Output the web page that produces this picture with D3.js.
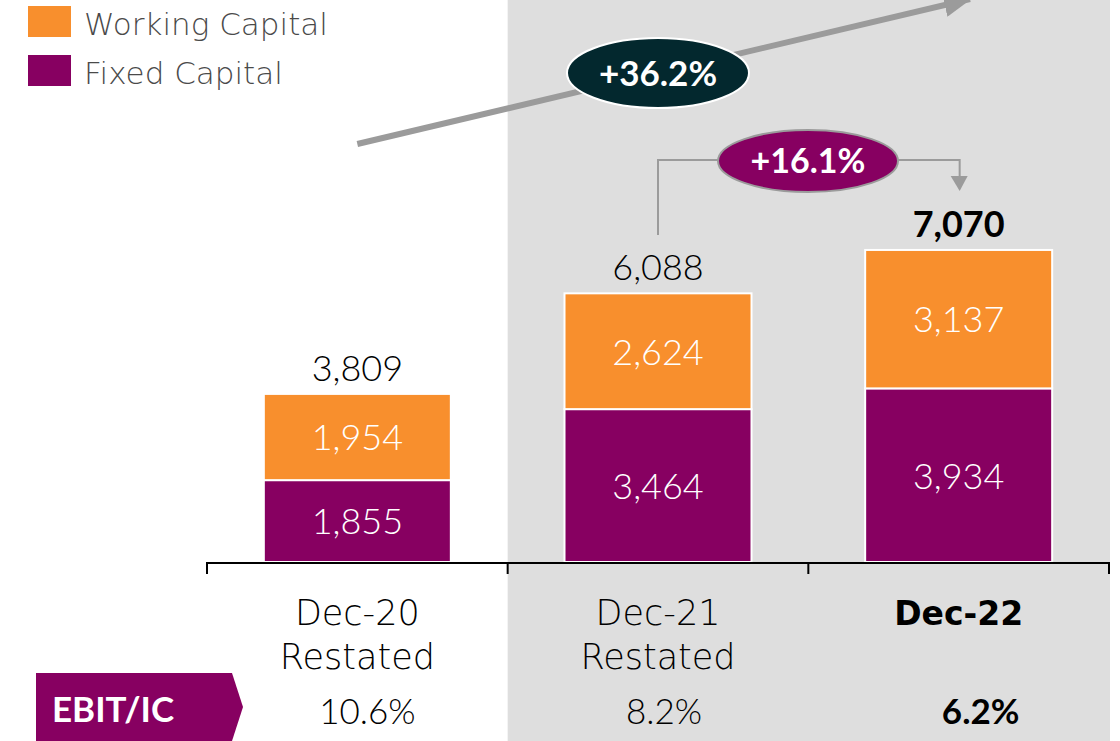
<!DOCTYPE html>
<meta charset="utf-8">
<script src="https://d3js.org/d3.v7.min.js"></script>
<style>
  body { margin: 0; background: #fff; }
  svg { display: block; font-family: Lato, "Open Sans", sans-serif; }
  .word { font-family: "DejaVu Sans", sans-serif; }
</style>

<div id="chart"></div>

<script>

// dados
const categories = ["Dec-20", "Dec-21", "Dec-22"];
const subLabels = ["Restated", "Restated", ""];
const fixedCapital = [1855, 3464, 3934];
const workingCapital = [1954, 2624, 3137];
const totals = [3809, 6088, 7070];
const ebitIC = ["10.6%", "8.2%", "6.2%"];
const series = ["Fixed Capital", "Working Capital"];
const legendItems = ["Working Capital", "Fixed Capital"];
const growthAll = "+36.2%";
const growthYoY = "+16.1%";

const width = 1120, height = 741;

const cr = {
  fixed: "#870061",
  working: "#f88f2d",
  panel: "#dedede",
  arrow: "#9b9b9b",
  teal: "#03282e",
  legendText: "#4a4a4a"
};
const colorOf = { "Fixed Capital": cr.fixed, "Working Capital": cr.working };

const svg = d3.select("#chart")
  .append("svg")
  .attr("width", width)
  .attr("height", height);

// escalas
const x = d3.scaleBand()
  .domain(categories)
  .range([207, 1109])
  .paddingInner(0)
  .paddingOuter(0);

const y = d3.scaleLinear()
  .domain([0, d3.max(totals)])
  .range([562, 250]);

const barW = 187;

// painel cinzento atrás das duas últimas colunas
svg.append("rect")
  .attr("x", x(categories[1]))
  .attr("y", 0)
  .attr("width", x(categories[2]) + x.bandwidth() - x(categories[1]) + 1)
  .attr("height", height)
  .attr("fill", cr.panel);

// legenda
const legend = svg.append("g");
legend.selectAll("rect")
  .data(legendItems)
  .join("rect")
  .attr("x", 28)
  .attr("y", (d, i) => 6 + i * 49)
  .attr("width", 43)
  .attr("height", 31)
  .attr("fill", d => colorOf[d]);
legend.selectAll("text")
  .data(legendItems)
  .join("text")
  .attr("class", "word")
  .attr("x", 84)
  .attr("y", (d, i) => 35 + i * 49)
  .style("font-size", "31px")
  .style("font-weight", 200)
  .attr("fill", cr.legendText)
  .text(d => d);

// seta grande (+36.2%)
svg.append("defs").append("marker")
  .attr("id", "head")
  .attr("markerUnits", "userSpaceOnUse")
  .attr("markerWidth", 28)
  .attr("markerHeight", 24)
  .attr("viewBox", "0 0 28 24")
  .attr("refX", 26)
  .attr("refY", 12)
  .attr("orient", "auto")
  .append("path")
  .attr("d", "M0,0 L28,12 L0,24 Z")
  .attr("fill", cr.arrow);

svg.append("line")
  .attr("x1", x(categories[0]) + x.bandwidth() / 2)
  .attr("y1", 144)
  .attr("x2", 970)
  .attr("y2", -1)
  .attr("stroke", cr.arrow)
  .attr("stroke-width", 6)
  .attr("marker-end", "url(#head)");

svg.append("ellipse")
  .attr("cx", x(categories[1]) + x.bandwidth() / 2)
  .attr("cy", 73)
  .attr("rx", 91)
  .attr("ry", 35)
  .attr("fill", cr.teal)
  .attr("stroke", "#fff")
  .attr("stroke-width", 2);
svg.append("text")
  .attr("x", x(categories[1]) + x.bandwidth() / 2)
  .attr("y", 86)
  .attr("text-anchor", "middle")
  .attr("fill", "#fff")
  .style("font-size", "35px")
  .style("font-weight", "bold")
  .text(growthAll);

// conector ano-a-ano (+16.1%)
const cx2 = x(categories[1]) + x.bandwidth() / 2;
const cx3 = x(categories[2]) + x.bandwidth() / 2;
svg.append("path")
  .attr("d", `M${cx2},235 V160 H${cx3 + 1} V178`)
  .attr("fill", "none")
  .attr("stroke", cr.arrow)
  .attr("stroke-width", 2);
svg.append("path")
  .attr("d", `M${cx3 - 8},176 L${cx3 + 9},176 L${cx3 + 1},191 Z`)
  .attr("fill", cr.arrow);
svg.append("ellipse")
  .attr("cx", 808)
  .attr("cy", 161)
  .attr("rx", 90)
  .attr("ry", 31)
  .attr("fill", cr.fixed)
  .attr("stroke", cr.arrow)
  .attr("stroke-width", 2);
svg.append("text")
  .attr("x", 808)
  .attr("y", 173)
  .attr("text-anchor", "middle")
  .attr("fill", "#fff")
  .style("font-size", "34px")
  .style("font-weight", "bold")
  .text(growthYoY);

// barras empilhadas
const rows = categories.map((c, i) => ({
  cat: c,
  "Fixed Capital": fixedCapital[i],
  "Working Capital": workingCapital[i]
}));
const stacked = d3.stack().keys(series)(rows);

const layers = svg.append("g")
  .selectAll("g")
  .data(stacked)
  .join("g")
  .attr("fill", d => colorOf[d.key]);

layers.selectAll("rect")
  .data(d => d)
  .join("rect")
  .attr("x", d => x(d.data.cat) + (x.bandwidth() - barW) / 2)
  .attr("y", d => y(d[1]))
  .attr("width", barW)
  .attr("height", d => y(d[0]) - y(d[1]))
  .attr("stroke", "#fff")
  .attr("stroke-width", 2);

layers.selectAll("text")
  .data(d => d)
  .join("text")
  .attr("x", d => x(d.data.cat) + x.bandwidth() / 2)
  .attr("y", d => (y(d[0]) + y(d[1])) / 2)
  .attr("dy", "0.37em")
  .attr("text-anchor", "middle")
  .attr("fill", "#fff")
  .style("font-size", "36px")
  .style("font-weight", 300)
  .text(d => d3.format(",")(d[1] - d[0]));

// totais
svg.append("g")
  .selectAll("text")
  .data(totals)
  .join("text")
  .attr("x", (d, i) => x(categories[i]) + x.bandwidth() / 2)
  .attr("y", d => y(d) - 13)
  .attr("text-anchor", "middle")
  .attr("fill", "#000")
  .style("font-size", "36px")
  .style("font-weight", (d, i) => i == totals.length - 1 ? "bold" : 300)
  .text(d => d3.format(",")(d));

// eixo
const axis = svg.append("g").attr("stroke", "#000").attr("stroke-width", 2);
axis.append("line")
  .attr("x1", x.range()[0])
  .attr("x2", x.range()[1])
  .attr("y1", 563)
  .attr("y2", 563);
axis.selectAll(".tick")
  .data([...categories.map(c => x(c)), x.range()[1]])
  .join("line")
  .attr("class", "tick")
  .attr("x1", d => d)
  .attr("x2", d => d)
  .attr("y1", 562)
  .attr("y2", 574);

// rótulos das categorias
const last = categories.length - 1;
svg.append("g")
  .selectAll("text")
  .data(categories)
  .join("text")
  .attr("class", "word")
  .attr("x", d => x(d) + x.bandwidth() / 2)
  .attr("y", 625)
  .attr("text-anchor", "middle")
  .style("font-size", (d, i) => i == last ? "33px" : "35px")
  .style("font-weight", (d, i) => i == last ? "bold" : 200)
  .text(d => d);

svg.append("g")
  .selectAll("text")
  .data(subLabels)
  .join("text")
  .attr("class", "word")
  .attr("x", (d, i) => x(categories[i]) + x.bandwidth() / 2)
  .attr("y", 669)
  .attr("text-anchor", "middle")
  .style("font-size", "35px")
  .style("font-weight", 200)
  .text(d => d);

// EBIT/IC
svg.append("path")
  .attr("d", "M36,673 H232 L243,707 L232,741 H36 Z")
  .attr("fill", cr.fixed);
svg.append("text")
  .attr("x", 52)
  .attr("y", 722)
  .attr("fill", "#fff")
  .style("font-size", "35px")
  .style("font-weight", "bold")
  .text("EBIT/IC");

const ebitNudge = [10, 6, 22];
svg.append("g")
  .selectAll("text")
  .data(ebitIC)
  .join("text")
  .attr("x", (d, i) => x(categories[i]) + x.bandwidth() / 2 + ebitNudge[i])
  .attr("y", 724)
  .attr("text-anchor", "middle")
  .style("font-size", "35px")
  .style("font-weight", (d, i) => i == last ? "bold" : 300)
  .text(d => d);

</script>
